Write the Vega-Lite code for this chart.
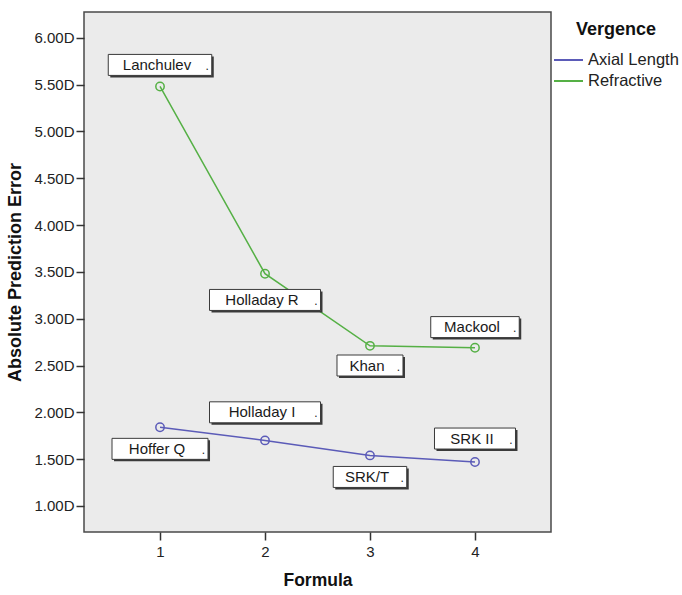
{
  "$schema": "https://vega.github.io/schema/vega-lite/v6.json",
  "width": 467,
  "height": 520,
  "autosize": {"type": "none"},
  "padding": {"left": 84, "top": 12, "right": 131, "bottom": 63},
  "background": "white",
  "config": {
    "font": "Liberation Sans",
    "view": {"fill": "#ebebeb", "stroke": "#4a4a4a", "strokeWidth": 1.5},
    "axis": {"grid": false, "domain": false, "tickColor": "#333", "tickSize": 8, "tickWidth": 1.5, "labelFont": "Liberation Sans", "labelFontSize": 15, "labelColor": "#222", "titleFont": "Liberation Sans", "titleFontSize": 17.5, "titleFontWeight": "bold", "titleColor": "#111"}
  },
  "datasets": {
    "pts": [
      {"formula": 1, "vergence": "Axial Length", "error": 1.84},
      {"formula": 2, "vergence": "Axial Length", "error": 1.70},
      {"formula": 3, "vergence": "Axial Length", "error": 1.54},
      {"formula": 4, "vergence": "Axial Length", "error": 1.47},
      {"formula": 1, "vergence": "Refractive", "error": 5.48},
      {"formula": 2, "vergence": "Refractive", "error": 3.48},
      {"formula": 3, "vergence": "Refractive", "error": 2.71},
      {"formula": 4, "vergence": "Refractive", "error": 2.69}
    ],
    "labels": [
      {"formula": 1, "labelY": 5.71, "label": "Lanchulev"},
      {"formula": 2, "labelY": 3.20, "label": "Holladay R"},
      {"formula": 3, "labelY": 2.50, "label": "Khan"},
      {"formula": 4, "labelY": 2.91, "label": "Mackool"},
      {"formula": 1, "labelY": 1.61, "label": "Hoffer Q"},
      {"formula": 2, "labelY": 2.00, "label": "Holladay I"},
      {"formula": 3, "labelY": 1.31, "label": "SRK/T"},
      {"formula": 4, "labelY": 1.72, "label": "SRK II"}
    ]
  },
  "layer": [
    {
      "data": {"name": "pts"},
      "mark": {"type": "line", "strokeWidth": 1.5, "point": {"filled": false, "size": 70, "strokeWidth": 1.5}},
      "encoding": {
        "x": {"field": "formula", "type": "quantitative", "scale": {"domain": [0.276, 4.724], "nice": false, "zero": false},
              "axis": {"values": [1, 2, 3, 4], "format": "d", "title": "Formula", "labelPadding": 4, "titlePadding": 12}},
        "y": {"field": "error", "type": "quantitative", "scale": {"domain": [0.722, 6.275], "nice": false, "zero": false},
              "axis": {"values": [1, 1.5, 2, 2.5, 3, 3.5, 4, 4.5, 5, 5.5, 6], "labelExpr": "format(datum.value, '.2f') + 'D'", "title": "Absolute Prediction Error", "titleFontSize": 18, "labelPadding": 2, "titlePadding": 9}},
        "color": {"field": "vergence", "type": "nominal",
                  "scale": {"domain": ["Axial Length", "Refractive"], "range": ["#5b5bb8", "#55b045"]},
                  "legend": {"title": "Vergence", "orient": "none", "legendX": 469, "legendY": 9, "symbolType": "stroke", "symbolSize": 841, "symbolStrokeWidth": 2, "clipHeight": 18, "rowPadding": 3, "labelOffset": 4, "labelFontSize": 16.5, "labelColor": "#222", "titleFontSize": 18, "titleFontWeight": "bold", "titleColor": "#111", "titleAnchor": "middle", "titlePadding": 12}}
      }
    },
    {
      "data": {"name": "labels"},
      "mark": {"type": "rect", "fill": "#3a3a3a", "height": 21, "width": {"expr": "length(datum.label)*7.5 + 36"}, "xOffset": 2, "yOffset": 2},
      "encoding": {
        "x": {"field": "formula", "type": "quantitative"},
        "y": {"field": "labelY", "type": "quantitative"}
      }
    },
    {
      "data": {"name": "labels"},
      "mark": {"type": "rect", "fill": "white", "stroke": "#3a3a3a", "strokeWidth": 1, "height": 21, "width": {"expr": "length(datum.label)*7.5 + 36"}},
      "encoding": {
        "x": {"field": "formula", "type": "quantitative"},
        "y": {"field": "labelY", "type": "quantitative"}
      }
    },
    {
      "data": {"name": "labels"},
      "mark": {"type": "text", "font": "Liberation Sans", "fontSize": 15, "color": "#1a1a1a", "align": "center", "baseline": "middle", "dx": -3},
      "encoding": {
        "x": {"field": "formula", "type": "quantitative"},
        "y": {"field": "labelY", "type": "quantitative"},
        "text": {"field": "label"}
      }
    },
    {
      "data": {"name": "labels"},
      "mark": {"type": "text", "font": "Liberation Sans", "fontSize": 12, "color": "#1a1a1a", "align": "right", "baseline": "middle", "text": ".", "dx": {"expr": "(length(datum.label)*7.5 + 36)/2 - 3"}, "dy": 1},
      "encoding": {
        "x": {"field": "formula", "type": "quantitative"},
        "y": {"field": "labelY", "type": "quantitative"}
      }
    }
  ]
}
